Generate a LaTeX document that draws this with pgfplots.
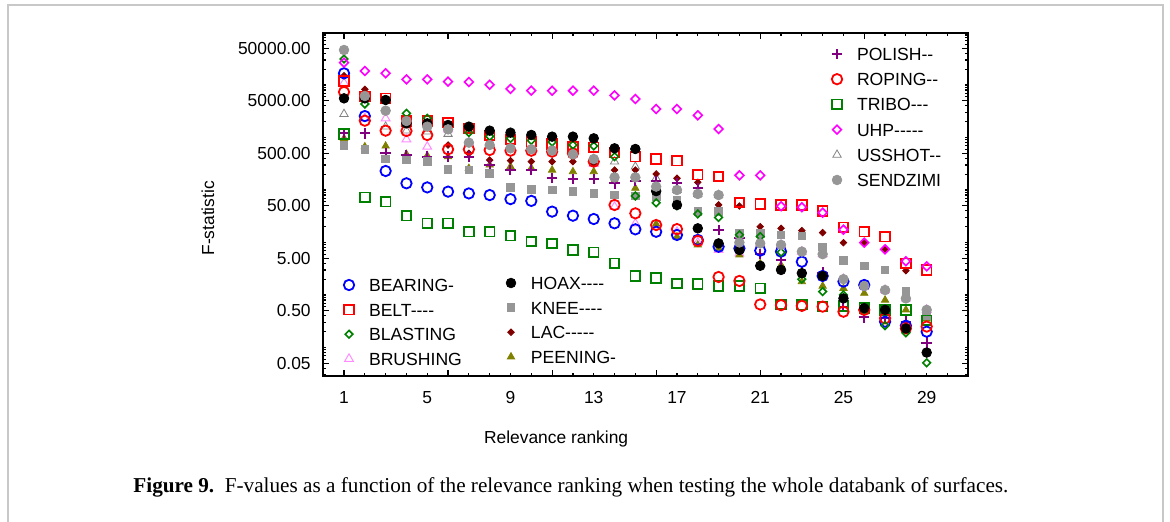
\documentclass[border=0pt]{standalone}
\usepackage{fontspec}
\setmainfont{Liberation Sans}
\newfontfamily\capfont{Liberation Serif}
\usepackage{pgfplots}
\usepackage{pgfplotstable}
\pgfplotsset{compat=1.18}
\definecolor{cblue}{RGB}{0,0,255}
\definecolor{cred}{RGB}{255,0,0}
\definecolor{cgreen}{RGB}{0,128,0}
\definecolor{cpink}{RGB}{255,140,255}
\definecolor{cgray}{RGB}{150,150,150}
\definecolor{cgraytri}{RGB}{130,130,130}
\definecolor{cmaroon}{RGB}{128,0,0}
\definecolor{colive}{RGB}{128,128,0}
\definecolor{cpurple}{RGB}{128,0,128}
\definecolor{cmagenta}{RGB}{255,0,255}
\definecolor{cframe}{RGB}{200,200,200}

\pgfplotstableread{
r BEARING BELT BLASTING BRUSHING HOAX KNEE LAC PEENING POLISH ROPING TRIBO UHP USSHOT SENDZIMI
1 16700 11900 31300 11000 5570 698 15000 964 1200 7360 1166 26600 2800 46400
2 2560 6000 4350 2320 5570 594 8260 668 1200 2090 72.4 18500 2320 6170
3 230 5570 3240 2320 5180 389 3240 689 499 1350 60 16700 1610 3240
4 134 2060 2880 923 1860 373 2060 480 457 1330 32.4 12800 1350 2060
5 112 2060 2320 668 1860 347 1610 450 431 1115 23.2 12800 1290 1610
6 93 1920 1430 1430 1730 248 719 430 431 595 23.2 11600 1166 1430
7 86 1500 1236 797 1610 240 499 259 431 595 16.1 11400 797 797
8 80 1090 1050 719 1350 208 372 300 299 578 16.1 10100 719 719
9 67 922 960 622 1236 111 362 280 240 560 13.5 8400 622 622
10 62 832 880 595 1117 103 347 260 240 560 10.4 7800 595 595
11 38.7 751 820 561 1038 100 347 240 167 537 9.6 7800 561 561
12 32.4 668 720 478 1038 93 347 224 160 499 7.2 7800 478 478
13 28 650 690 313 964 86 320 224 160 347 6.5 7800 389 389
14 23.2 514 431 48 622 80 240 150 134 51.8 4.0 6360 347 174
15 17.8 431 77 23 604 77 240 108 150 35.9 2.3 5420 278 174
16 16 389 57 20 95 75 202 22.5 150 21.5 2.1 3490 167 116
17 13.9 360 50 16 51.8 64 167 12.9 134 18 1.65 3490 100 100
18 11.2 196 35 10 18.6 38.7 140 9 110 10.7 1.62 2650 84 84
19 8.3 180 30 7.2 9.6 38.7 52 7.7 17.3 2.2 1.48 1450 80 80
20 7.7 58 14 6.2 7.2 15 49.5 5.8 12 1.85 1.48 190 10 10
21 7 54 13 9.6 3.6 15 20 4.0 6 0.66 1.34 190 9.6 9.6
22 6.7 51.8 6.5 9 3.0 13.9 18.6 3.7 4.6 0.64 0.66 49 9 9
23 4.3 51.8 2.0 6.7 2.6 13.3 16.8 1.8 2.66 0.62 0.65 47 6.7 6.7
24 2.3 40 1.16 6 2.3 8.3 15.4 1.48 2.66 0.6 0.6 37 6 6
25 1.8 19.5 1.0 2.0 0.86 4.6 9.9 1.34 0.6 0.48 0.62 17.5 2.0 2.0
26 1.55 16.1 0.56 1.48 0.56 3.56 9.9 1.08 0.375 0.52 0.56 9.9 1.48 1.48
27 0.31 12.9 0.26 1.24 0.52 3.0 7.4 0.80 0.36 0.36 0.52 7.4 1.24 1.24
28 0.26 4.0 0.19 0.86 0.23 1.16 2.9 0.52 0.31 0.23 0.52 4.4 0.86 0.86
29 0.20 3.0 0.051 0.52 0.080 0.4 0.4 0.35 0.124 0.25 0.33 3.5 0.52 0.52
}\data

\pgfplotsset{
  sBEARING/.style={only marks, color=cblue, mark=o, mark size=2.6pt, line width=0.9pt},
  sBELT/.style={only marks, color=cred, mark=square, mark size=2.4pt, line width=0.9pt},
  sBLASTING/.style={only marks, color=cgreen, mark=square, mark size=1.35pt, line width=0.8pt, mark options={rotate=45}},
  sBRUSHING/.style={only marks, color=cpink, mark=triangle, mark size=2.5pt, line width=0.5pt},
  sHOAX/.style={only marks, color=black, mark=*, mark size=2.4pt},
  sKNEE/.style={only marks, color=cgray, mark=square*, mark size=1.9pt},
  sLAC/.style={only marks, color=cmaroon, mark=square*, mark size=1.15pt, mark options={rotate=45}},
  sPEENING/.style={only marks, color=colive, mark=triangle*, mark size=2.1pt},
  sPOLISH/.style={only marks, color=cpurple, mark=+, mark size=2.6pt, line width=1pt},
  sROPING/.style={only marks, color=cred, mark=o, mark size=2.6pt, line width=0.9pt},
  sTRIBO/.style={only marks, color=cgreen, mark=square, mark size=2.4pt, line width=0.9pt},
  sUHP/.style={only marks, color=cmagenta, mark=square, mark size=1.55pt, line width=0.8pt, mark options={rotate=45}},
  sUSSHOT/.style={only marks, color=cgraytri, mark=triangle, mark size=2.4pt, line width=0.4pt},
  sSENDZIMI/.style={only marks, color=cgray, mark=*, mark size=2.4pt},
}

\begin{document}
\begin{tikzpicture}
\useasboundingbox (0,0) rectangle (585pt,-261pt);
\draw[line width=1pt, cframe] (4pt,-262pt) -- (4pt,-2.5pt) -- (581.5pt,-2.5pt) -- (581.5pt,-262pt);

\begin{axis}[
  at={(161.6pt,-16.65pt)}, anchor=north west,
  scale only axis, width=322.55pt, height=171.35pt,
  xmin=0, xmax=31, ymode=log, ymin=0.0286, ymax=96600,
  legend cell align=left,
  legend image code/.code={\path[draw=none,fill=none] (-3pt,-3pt) rectangle (10pt,3pt); \draw[mark repeat=1,#1] plot coordinates {(0pt,0pt)};},
  legend style={draw=none, fill=none, inner sep=0pt, outer sep=0pt, anchor=north west,
    font=\fontsize{8.8}{10}\selectfont, row sep=5.8pt,
    nodes={inner sep=0pt, text height=6.5pt, text depth=0pt},
    at={(axis description cs:0.0307,0.2845)}},
  axis line style={line width=1pt},
  tick align=inside,
  major tick length=1.6pt, minor tick length=1.6pt,
  xtick={1,5,...,29}, xticklabels={1,5,9,13,17,21,25,29},
  minor xtick={0,1,...,31},
  extra x ticks={1,6,11,16,21,26,31}, extra x tick labels={},
  extra x tick style={major tick length=3pt},
  ytick={0.05,0.5,5,50,500,5000,50000},
  yticklabels={0.05,0.50,5.00,50.00,500.00,5000.00,50000.00},
  minor ytick={0.03,0.04,0.06,0.07,0.08,0.09,0.1,0.2,0.3,0.4,0.6,0.7,0.8,0.9,1,2,3,4,6,7,8,9,10,20,30,40,60,70,80,90,100,200,300,400,600,700,800,900,1000,2000,3000,4000,6000,7000,8000,9000,10000,20000,30000,40000,60000,70000,80000,90000},
  extra y ticks={0.05,0.5,5,50,500,5000,50000}, extra y tick labels={},
  extra y tick style={major tick length=3pt},
  every tick/.style={black, line width=0.6pt},
  tick label style={font=\fontsize{8.7}{10}\selectfont},
  xticklabel style={yshift=-4pt},
  yticklabel style={xshift=-2.75pt},
  label style={font=\fontsize{8.7}{10}\selectfont},
  xlabel={Relevance ranking},
  xlabel style={at={(axis description cs:0.361,-0.184)}, anchor=center},
  ylabel={F-statistic},
  ylabel style={at={(axis description cs:-0.1786,0.46)}, anchor=center},
]
\addplot[sUSSHOT, forget plot] table[x=r, y=USSHOT]{\data};
\addplot[sBRUSHING, forget plot] table[x=r, y=BRUSHING]{\data};
\addplot[sPEENING, forget plot] table[x=r, y=PEENING]{\data};
\addplot[sLAC, forget plot] table[x=r, y=LAC]{\data};
\addplot[sPOLISH, forget plot] table[x=r, y=POLISH]{\data};
\addplot[sKNEE, forget plot] table[x=r, y=KNEE]{\data};
\addplot[sTRIBO, forget plot] table[x=r, y=TRIBO]{\data};
\addplot[sBEARING, forget plot] table[x=r, y=BEARING]{\data};
\addplot[sROPING, forget plot] table[x=r, y=ROPING]{\data};
\addplot[sBELT, forget plot] table[x=r, y=BELT]{\data};
\addplot[sBLASTING, forget plot] table[x=r, y=BLASTING]{\data};
\addplot[sUHP, forget plot] table[x=r, y=UHP]{\data};
\addplot[sHOAX, forget plot] table[x=r, y=HOAX]{\data};
\addplot[sSENDZIMI, forget plot] table[x=r, y=SENDZIMI]{\data};
\addlegendimage{sBEARING}\addlegendentry{BEARING-}
\addlegendimage{sBELT}\addlegendentry{BELT-{}-{}-{}-}
\addlegendimage{sBLASTING}\addlegendentry{BLASTING}
\addlegendimage{sBRUSHING}\addlegendentry{BRUSHING}
\end{axis}

\begin{axis}[
  at={(161.6pt,-16.65pt)}, anchor=north west,
  scale only axis, width=322.55pt, height=171.35pt,
  xmin=0, xmax=31, ymin=0, ymax=1, hide axis,
  legend cell align=left,
  legend image code/.code={\path[draw=none,fill=none] (-3pt,-3pt) rectangle (10pt,3pt); \draw[mark repeat=1,#1] plot coordinates {(0pt,0pt)};},
  legend style={draw=none, fill=none, inner sep=0pt, outer sep=0pt, anchor=north west,
    font=\fontsize{8.8}{10}\selectfont, row sep=5.8pt,
    nodes={inner sep=0pt, text height=6.5pt, text depth=0pt},
    at={(axis description cs:0.2818,0.2903)}},
]
\addplot[draw=none, forget plot] coordinates {(1,0.5)};
\addlegendimage{sHOAX}\addlegendentry{HOAX-{}-{}-{}-}
\addlegendimage{sKNEE}\addlegendentry{KNEE-{}-{}-{}-}
\addlegendimage{sLAC}\addlegendentry{LAC-{}-{}-{}-{}-}
\addlegendimage{sPEENING}\addlegendentry{PEENING-}
\end{axis}

\begin{axis}[
  at={(161.6pt,-16.65pt)}, anchor=north west,
  scale only axis, width=322.55pt, height=171.35pt,
  xmin=0, xmax=31, ymin=0, ymax=1, hide axis,
  legend cell align=left,
  legend image code/.code={\path[draw=none,fill=none] (-3pt,-3pt) rectangle (10pt,3pt); \draw[mark repeat=1,#1] plot coordinates {(0pt,0pt)};},
  legend style={draw=none, fill=none, inner sep=0pt, outer sep=0pt, anchor=north west,
    font=\fontsize{8.8}{10}\selectfont, row sep=6.1pt,
    nodes={inner sep=0pt, text height=6.5pt, text depth=0pt},
    at={(axis description cs:0.7872,0.9586)}},
]
\addplot[draw=none, forget plot] coordinates {(1,0.5)};
\addlegendimage{sPOLISH}\addlegendentry{POLISH-{}-}
\addlegendimage{sROPING}\addlegendentry{ROPING-{}-}
\addlegendimage{sTRIBO}\addlegendentry{TRIBO-{}-{}-}
\addlegendimage{sUHP}\addlegendentry{UHP-{}-{}-{}-{}-}
\addlegendimage{sUSSHOT}\addlegendentry{USSHOT-{}-}
\addlegendimage{sSENDZIMI}\addlegendentry{SENDZIMI}
\end{axis}

\node[anchor=west, inner sep=0pt] at (66.5pt,-243.5pt) {\capfont\fontsize{10.6}{12}\selectfont\textbf{Figure 9.}\hspace{0.5em}F-values as a function of the relevance ranking when testing the whole databank of surfaces.};
\end{tikzpicture}
\end{document}
